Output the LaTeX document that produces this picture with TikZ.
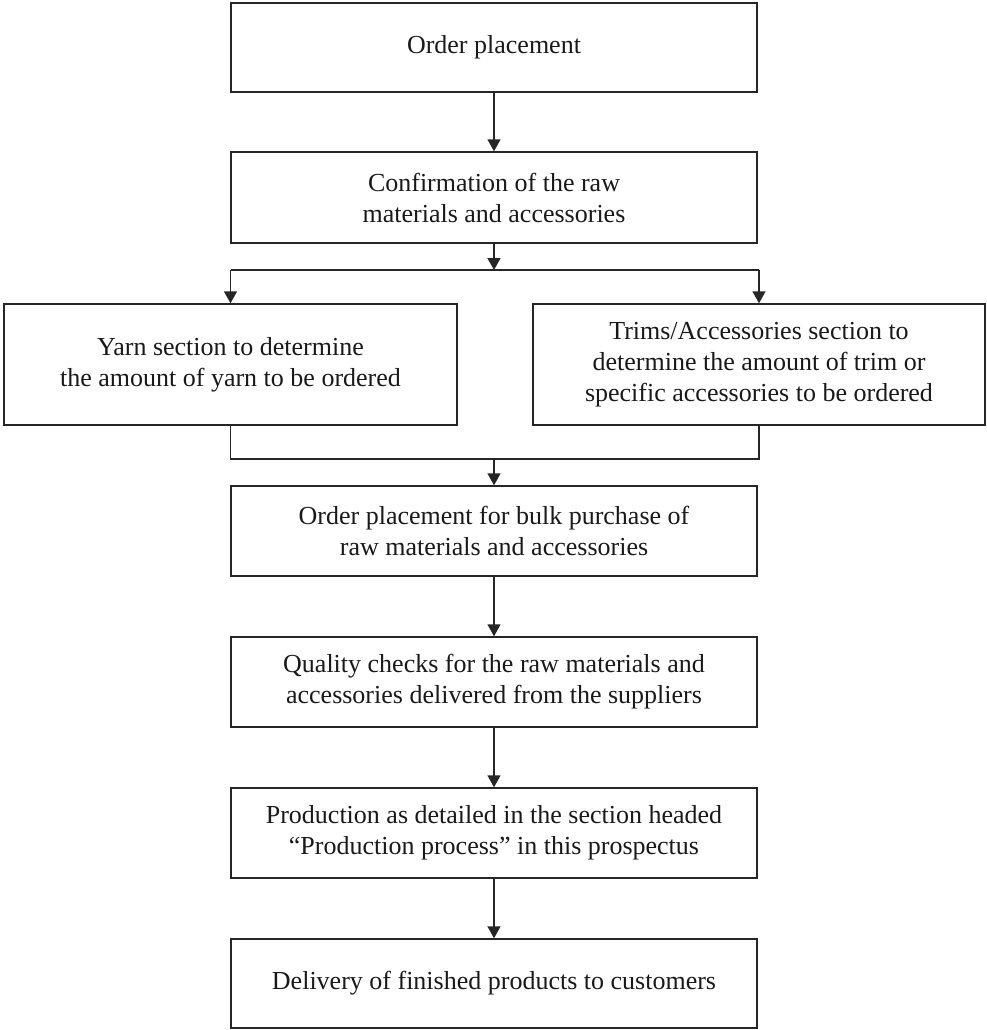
\documentclass[tikz,border=0pt]{standalone}
\usepackage{fontspec}
\setmainfont{Liberation Serif}
\usetikzlibrary{arrows.meta,calc}
\begin{document}
\begin{tikzpicture}[x=1pt,y=-1pt,
  box/.style={draw=black!85, line width=1.4pt, align=center, inner sep=0pt,
    font=\fontsize{26}{31}\selectfont, text=black!90},
  conn/.style={draw=black!85, line width=1.4pt},
  arr/.style={conn, -{Triangle[length=12pt,width=13pt]}}]
\useasboundingbox (0,0) rectangle (986,1030);
\node[box, minimum width=526pt, minimum height=89pt] (b1) at (494,47.5) {Order placement};
\node[box, minimum width=526pt, minimum height=91pt] (b2) at (494,197.5) {Confirmation of the raw\\materials and accessories};
\node[box, minimum width=453pt, minimum height=121pt] (b3) at (230.5,364.5) {Yarn section to determine\\the amount of yarn to be ordered};
\node[box, minimum width=452pt, minimum height=121pt] (b4) at (759,364.5) {Trims/Accessories section to\\determine the amount of trim or\\specific accessories to be ordered};
\node[box, minimum width=526pt, minimum height=90pt] (b5) at (494,531) {Order placement for bulk purchase of\\raw materials and accessories};
\node[box, minimum width=526pt, minimum height=90pt] (b6) at (494,682) {Quality checks for the raw materials and\\accessories delivered from the suppliers};
\node[box, minimum width=526pt, minimum height=90pt] (b7) at (494,833) {Production as detailed in the section headed\\ ``Production process'' in this prospectus};
\node[box, minimum width=526pt, minimum height=89pt] (b8) at (494,983.5) {Delivery of finished products to customers};
\coordinate (s1) at (494,270);
\coordinate (sl) at (230.5,270);
\coordinate (sr) at (759,270);
\coordinate (j1) at (494,459);
\coordinate (jl) at (230.5,459);
\coordinate (jr) at (759,459);
\draw[arr] (b1.south) -- (b2.north);
\draw[arr] (b2.south) -- (s1);
\draw[conn] (sl) -- (sr);
\draw[arr] (sl) -- (b3.north);
\draw[arr] (sr) -- (b4.north);
\draw[conn] (b3.south) -- (jl) -- (jr) -- (b4.south);
\draw[arr] (j1) -- (b5.north);
\draw[arr] (b5.south) -- (b6.north);
\draw[arr] (b6.south) -- (b7.north);
\draw[arr] (b7.south) -- (b8.north);
\end{tikzpicture}
\end{document}
